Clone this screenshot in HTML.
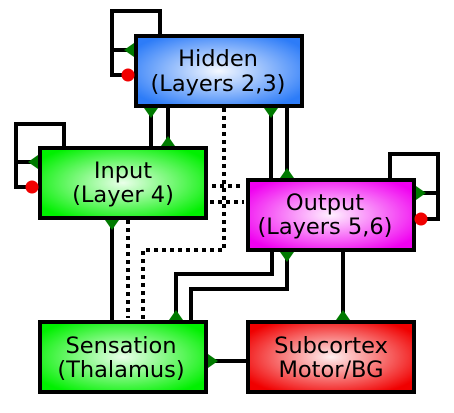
<!DOCTYPE html>
<html><head><style>body{margin:0;background:#fff}</style></head><body>
<svg width="454" height="408" viewBox="0 0 454 408" xmlns="http://www.w3.org/2000/svg" font-family="DejaVu Sans, sans-serif">
<defs>
<radialGradient id="gb" r="0.6"><stop offset="0" stop-color="#f4f8ff"/><stop offset="1" stop-color="#2d7cf8"/></radialGradient>
<radialGradient id="gg" r="0.6"><stop offset="0" stop-color="#eaffea"/><stop offset="1" stop-color="#00f000"/></radialGradient>
<radialGradient id="gm" r="0.6"><stop offset="0" stop-color="#fff0ff"/><stop offset="1" stop-color="#f000f0"/></radialGradient>
<radialGradient id="gr" r="0.6"><stop offset="0" stop-color="#fff0f0"/><stop offset="1" stop-color="#f00000"/></radialGradient>
</defs>
<g fill="none" stroke="#000" stroke-width="4">
<polyline points="160,36 160,11 112,11 112,75 128,75"/>
<line x1="112" y1="50" x2="136" y2="50"/>
<polyline points="64,148 64,124 16,124 16,187 33,187"/>
<line x1="16" y1="162" x2="40" y2="162"/>
<polyline points="390,180 390,154 438,154 438,219 420,219"/>
<line x1="413" y1="193" x2="438" y2="193"/>
<line x1="151" y1="106" x2="151" y2="148"/>
<line x1="168" y1="106" x2="168" y2="148"/>
<line x1="271" y1="106" x2="271" y2="180"/>
<line x1="287" y1="106" x2="287" y2="180"/>
<line x1="112" y1="218" x2="112" y2="322"/>
<polyline points="272,250 272,274 176,274 176,322"/>
<polyline points="287,250 287,289 191,289 191,322"/>
<line x1="343" y1="250" x2="343" y2="322"/>
<line x1="208" y1="361" x2="248" y2="361"/>
</g>
<g fill="none" stroke="#000" stroke-width="4" stroke-dasharray="4,4">
<polyline points="224,108 224,250 143,250 143,320"/>
<line x1="128" y1="220" x2="128" y2="318"/>
<line x1="212" y1="186" x2="244" y2="186"/>
<line x1="210" y1="202" x2="244" y2="202"/>
</g>
<g stroke="#000" stroke-width="4">
<rect x="136" y="36" width="166" height="70" fill="url(#gb)"/>
<rect x="40" y="148" width="166" height="70" fill="url(#gg)"/>
<rect x="248" y="180" width="166" height="70" fill="url(#gm)"/>
<rect x="40" y="322" width="166" height="70" fill="url(#gg)"/>
<rect x="248" y="322" width="166" height="70" fill="url(#gr)"/>
</g>
<g fill="#007a00">
<polygon points="134,43 134,57 124,50"/>
<polygon points="38,155 38,169 28,162"/>
<polygon points="416,186 416,200 426,193"/>
<polygon points="144,108 158,108 151,118"/>
<polygon points="161,146 175,146 168,136"/>
<polygon points="264,108 278,108 271,118"/>
<polygon points="280,178 294,178 287,168"/>
<polygon points="105,220 119,220 112,230"/>
<polygon points="280,252 294,252 287,262"/>
<polygon points="169,320 183,320 176,310"/>
<polygon points="336,320 350,320 343,310"/>
<polygon points="208,354 208,368 218,361"/>
</g>
<g fill="#f00000"><circle cx="128" cy="75" r="6.5"/><circle cx="32" cy="187" r="6.5"/><circle cx="421" cy="219" r="6.5"/></g>
<g font-size="22.5" text-anchor="middle" fill="#000">
<text x="218" y="66">Hidden</text><text x="218" y="91">(Layers 2,3)</text>
<text x="123" y="178">Input</text><text x="123" y="202">(Layer 4)</text>
<text x="325" y="210">Output</text><text x="325" y="234">(Layers 5,6)</text>
<text x="121" y="353">Sensation</text><text x="121" y="377">(Thalamus)</text>
<text x="331" y="353">Subcortex</text><text x="331" y="377">Motor/BG</text>
</g>
</svg>
</body></html>
